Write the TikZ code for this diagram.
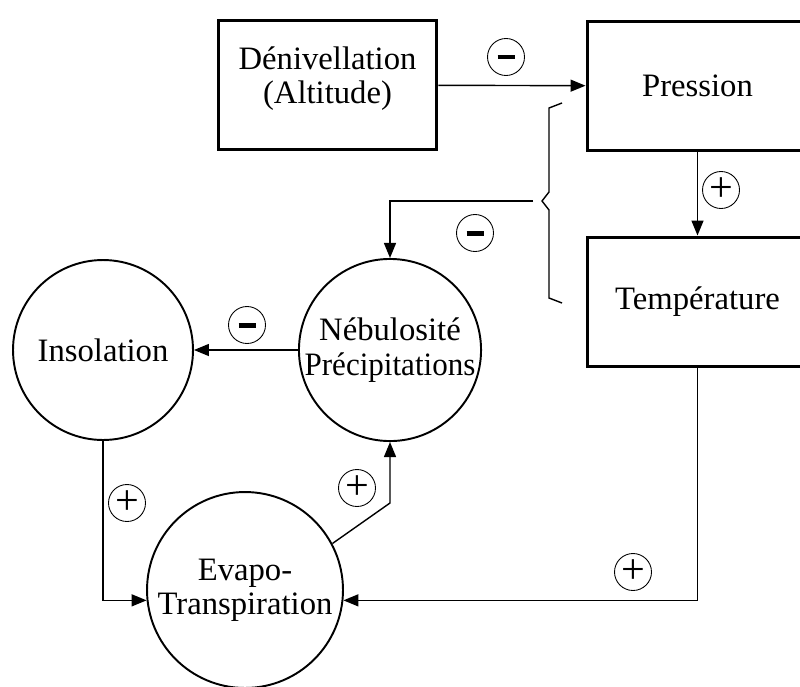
\documentclass[tikz,border=0pt]{standalone}
\usepackage{fontspec}
\setmainfont{Liberation Serif}
\usepackage{tikz}
\usetikzlibrary{arrows.meta}

\begin{document}
\begin{tikzpicture}[x=0.02cm, y=-0.02cm,
  font=\fontsize{18.6}{19.5}\selectfont,
  boite/.style={rectangle, draw, line width=1.7pt, minimum width=4.38cm, minimum height=2.6cm, align=center},
  cercle/.style={circle, draw, line width=1.1pt, inner sep=0pt, minimum size=3.6cm, align=center},
  signe/.style={circle, draw, line width=0.5pt, inner sep=0pt, minimum size=0.74cm},
  moins/.style={signe, font=\normalsize},
  plus/.style={signe, font=\fontsize{24}{24}\selectfont},
  fleche/.style={-{Triangle[length=0.3cm, width=0.24cm]}, line width=0.8pt}
]
  \clip (0,0) rectangle (800,686);
  % boites
  \node[boite, text depth=0.4cm] (den) at (327.5,85) {Dénivellation\\(Altitude)};
  \node[boite, minimum width=4.42cm] (pres) at (697.5,86) {Pression};
  \node[boite, minimum width=4.42cm] (temp) at (697.5,302) {Température};
  % cercles
  \node[cercle] (ins) at (103,350) {Insolation};
  \node[cercle] (neb) at (390,350) {Nébulosité\\\scalebox{0.95}[1]{Précipitations}};
  \node[cercle, minimum size=3.92cm] (evap) at (245,590) {Evapo-\\Transpiration};
  % accolade
  \draw[line width=0.8pt] (562,103) -- (549,108) -- (549,192) -- (542,201)
    -- (549,210) -- (549,298) -- (562,303);
  \coordinate (acc) at (533,201);
  \coordinate (coude) at (390,503);
  % fleches
  \draw[fleche] (den) -- (pres);
  \draw[fleche] (pres) -- (temp);
  \draw[fleche] (acc) -| (neb.north);
  \draw[fleche] (neb) -- (ins);
  \draw[fleche] (ins.south) |- (evap.186);
  \draw[fleche] (evap.28) -- (coude) -- (neb.south);
  \draw[fleche] (temp.south) |- (evap.-6);
  % signes
  \node[moins] (m1) at (506,57)  {\rule{0.34cm}{0.1cm}};
  \node[moins] (m2) at (475,233) {\rule{0.34cm}{0.1cm}};
  \node[moins] (m3) at (247,325) {\rule{0.34cm}{0.1cm}};
  \node[plus] (p1) at (721,190) {+};
  \node[plus] (p2) at (127,503) {+};
  \node[plus] (p3) at (357,488) {+};
  \node[plus] (p4) at (633,572) {+};
\end{tikzpicture}
\end{document}
